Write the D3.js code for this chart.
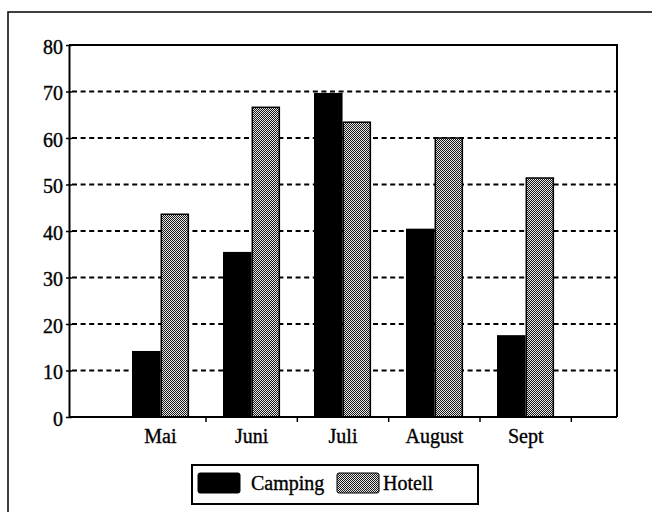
<!DOCTYPE html>
<html>
<head>
<meta charset="utf-8">
<script src="https://cdn.jsdelivr.net/npm/d3@7/dist/d3.min.js"></script>
<style>
  html, body { margin: 0; padding: 0; background: #fff; }
  svg { display: block; }
  text { font-family: "Liberation Serif", "DejaVu Serif", serif; fill: #000; stroke: #000; stroke-width: 0.35px; }
</style>
</head>
<body>
<svg id="chart" width="652" height="512"></svg>
<script>
const categories = ["Mai", "Juni", "Juli", "August", "Sept"];
const seriesNames = ["Camping", "Hotell"];
const camping = [14.2, 35.5, 69.7, 40.5, 17.6];
const hotell = [43.6, 66.6, 63.4, 60.0, 51.4];
const yTicks = [0, 10, 20, 30, 40, 50, 60, 70, 80];

const svg = d3.select("#chart");
const L = 69, T = 45, R = 617, B = 417;

// pattern for Hotell
const defs = svg.append("defs");
const pat = defs.append("pattern").attr("id", "checker")
  .attr("width", 2).attr("height", 2).attr("patternUnits", "userSpaceOnUse");
pat.append("rect").attr("width", 2).attr("height", 2).attr("fill", "#e6e6e6");
pat.append("rect").attr("x", 0).attr("y", 0).attr("width", 1).attr("height", 1).attr("fill", "#1a1a1a");
pat.append("rect").attr("x", 1).attr("y", 1).attr("width", 1).attr("height", 1).attr("fill", "#1a1a1a");

// outer frame
svg.append("rect").attr("x", 8).attr("y", 12).attr("width", 660).attr("height", 520)
  .attr("fill", "none").attr("stroke", "#000").attr("stroke-width", 1.5);

const x = d3.scaleBand().domain(categories).range([L, R]).paddingInner(0).paddingOuter(0.5);
const step = x.step();
const groupW = step * 0.625;
const xs = d3.scaleBand().domain(seriesNames).range([0, groupW]);
const y = d3.scaleLinear().domain([0, 80]).range([B, T]);

// gridlines
svg.append("g").selectAll("line").data(yTicks.filter(d => d > 0 && d < 80)).join("line")
  .attr("x1", L + 3).attr("x2", R).attr("y1", d => y(d)).attr("y2", d => y(d))
  .attr("stroke", "#000").attr("stroke-width", 2).attr("stroke-dasharray", "5,3.6");

// bars
const data = categories.map((c, i) => ({ c, vals: [camping[i], hotell[i]] }));
const groups = svg.append("g").selectAll("g").data(data).join("g")
  .attr("transform", d => `translate(${Math.round(x(d.c) + step / 2 - groupW / 2)},0)`);
groups.selectAll("rect").data(d => d.vals.map((v, j) => ({ s: seriesNames[j], v }))).join("rect")
  .attr("x", d => xs(d.s) + (d.s === "Hotell" ? 0.75 : 0))
  .attr("width", d => xs.bandwidth() - (d.s === "Hotell" ? 1.5 : 0))
  .attr("y", d => y(d.v))
  .attr("height", d => B - y(d.v))
  .attr("fill", d => d.s === "Camping" ? "#000" : "url(#checker)")
  .attr("stroke", d => d.s === "Hotell" ? "#000" : "none")
  .attr("stroke-width", 1.5);

// plot frame (top & right)
svg.append("path").attr("d", `M${L},${T}H${R}V${B}`)
  .attr("fill", "none").attr("stroke", "#000").attr("stroke-width", 2);

// y axis
const yAxis = svg.append("g").attr("transform", `translate(${L},0)`)
  .call(d3.axisLeft(y).tickValues(yTicks).tickSizeInner(3).tickSizeOuter(0).tickPadding(3));
yAxis.select(".domain").attr("stroke-width", 2);
yAxis.selectAll(".tick line").attr("x1", 3).attr("x2", -3).attr("stroke-width", 1.5);
yAxis.selectAll(".tick text").attr("font-size", 20).attr("font-family", "Liberation Serif").attr("dy", "0.4em");

// x axis
const xAxis = svg.append("g").attr("transform", `translate(0,${B})`)
  .call(d3.axisBottom(x).tickSize(0).tickPadding(11.5).tickSizeOuter(0));
xAxis.select(".domain").attr("stroke-width", 2).attr("d", `M${L},0H${R}`);
xAxis.selectAll(".tick text").attr("font-size", 20).attr("font-family", "Liberation Serif");
xAxis.selectAll(".bound").data(categories).join("line").attr("class", "bound")
  .attr("x1", d => x(d) + step).attr("x2", d => x(d) + step)
  .attr("y1", 0).attr("y2", 5).attr("stroke", "#000").attr("stroke-width", 1.5);

// legend
const lg = svg.append("g");
lg.append("rect").attr("x", 192).attr("y", 465).attr("width", 286).attr("height", 39)
  .attr("fill", "#fff").attr("stroke", "#000").attr("stroke-width", 2);
const legendItems = [
  { name: seriesNames[0], sx: 198, tx: 251, fill: "#000" },
  { name: seriesNames[1], sx: 337, tx: 383, fill: "url(#checker)" }
];
legendItems.forEach(it => {
  lg.append("rect").attr("x", it.sx).attr("y", 473).attr("width", 42).attr("height", 20)
    .attr("rx", 2).attr("fill", it.fill).attr("stroke", "#000").attr("stroke-width", 1);
  lg.append("text").attr("x", it.tx).attr("y", 490).attr("font-size", 20).text(it.name);
});
</script>
</body>
</html>
